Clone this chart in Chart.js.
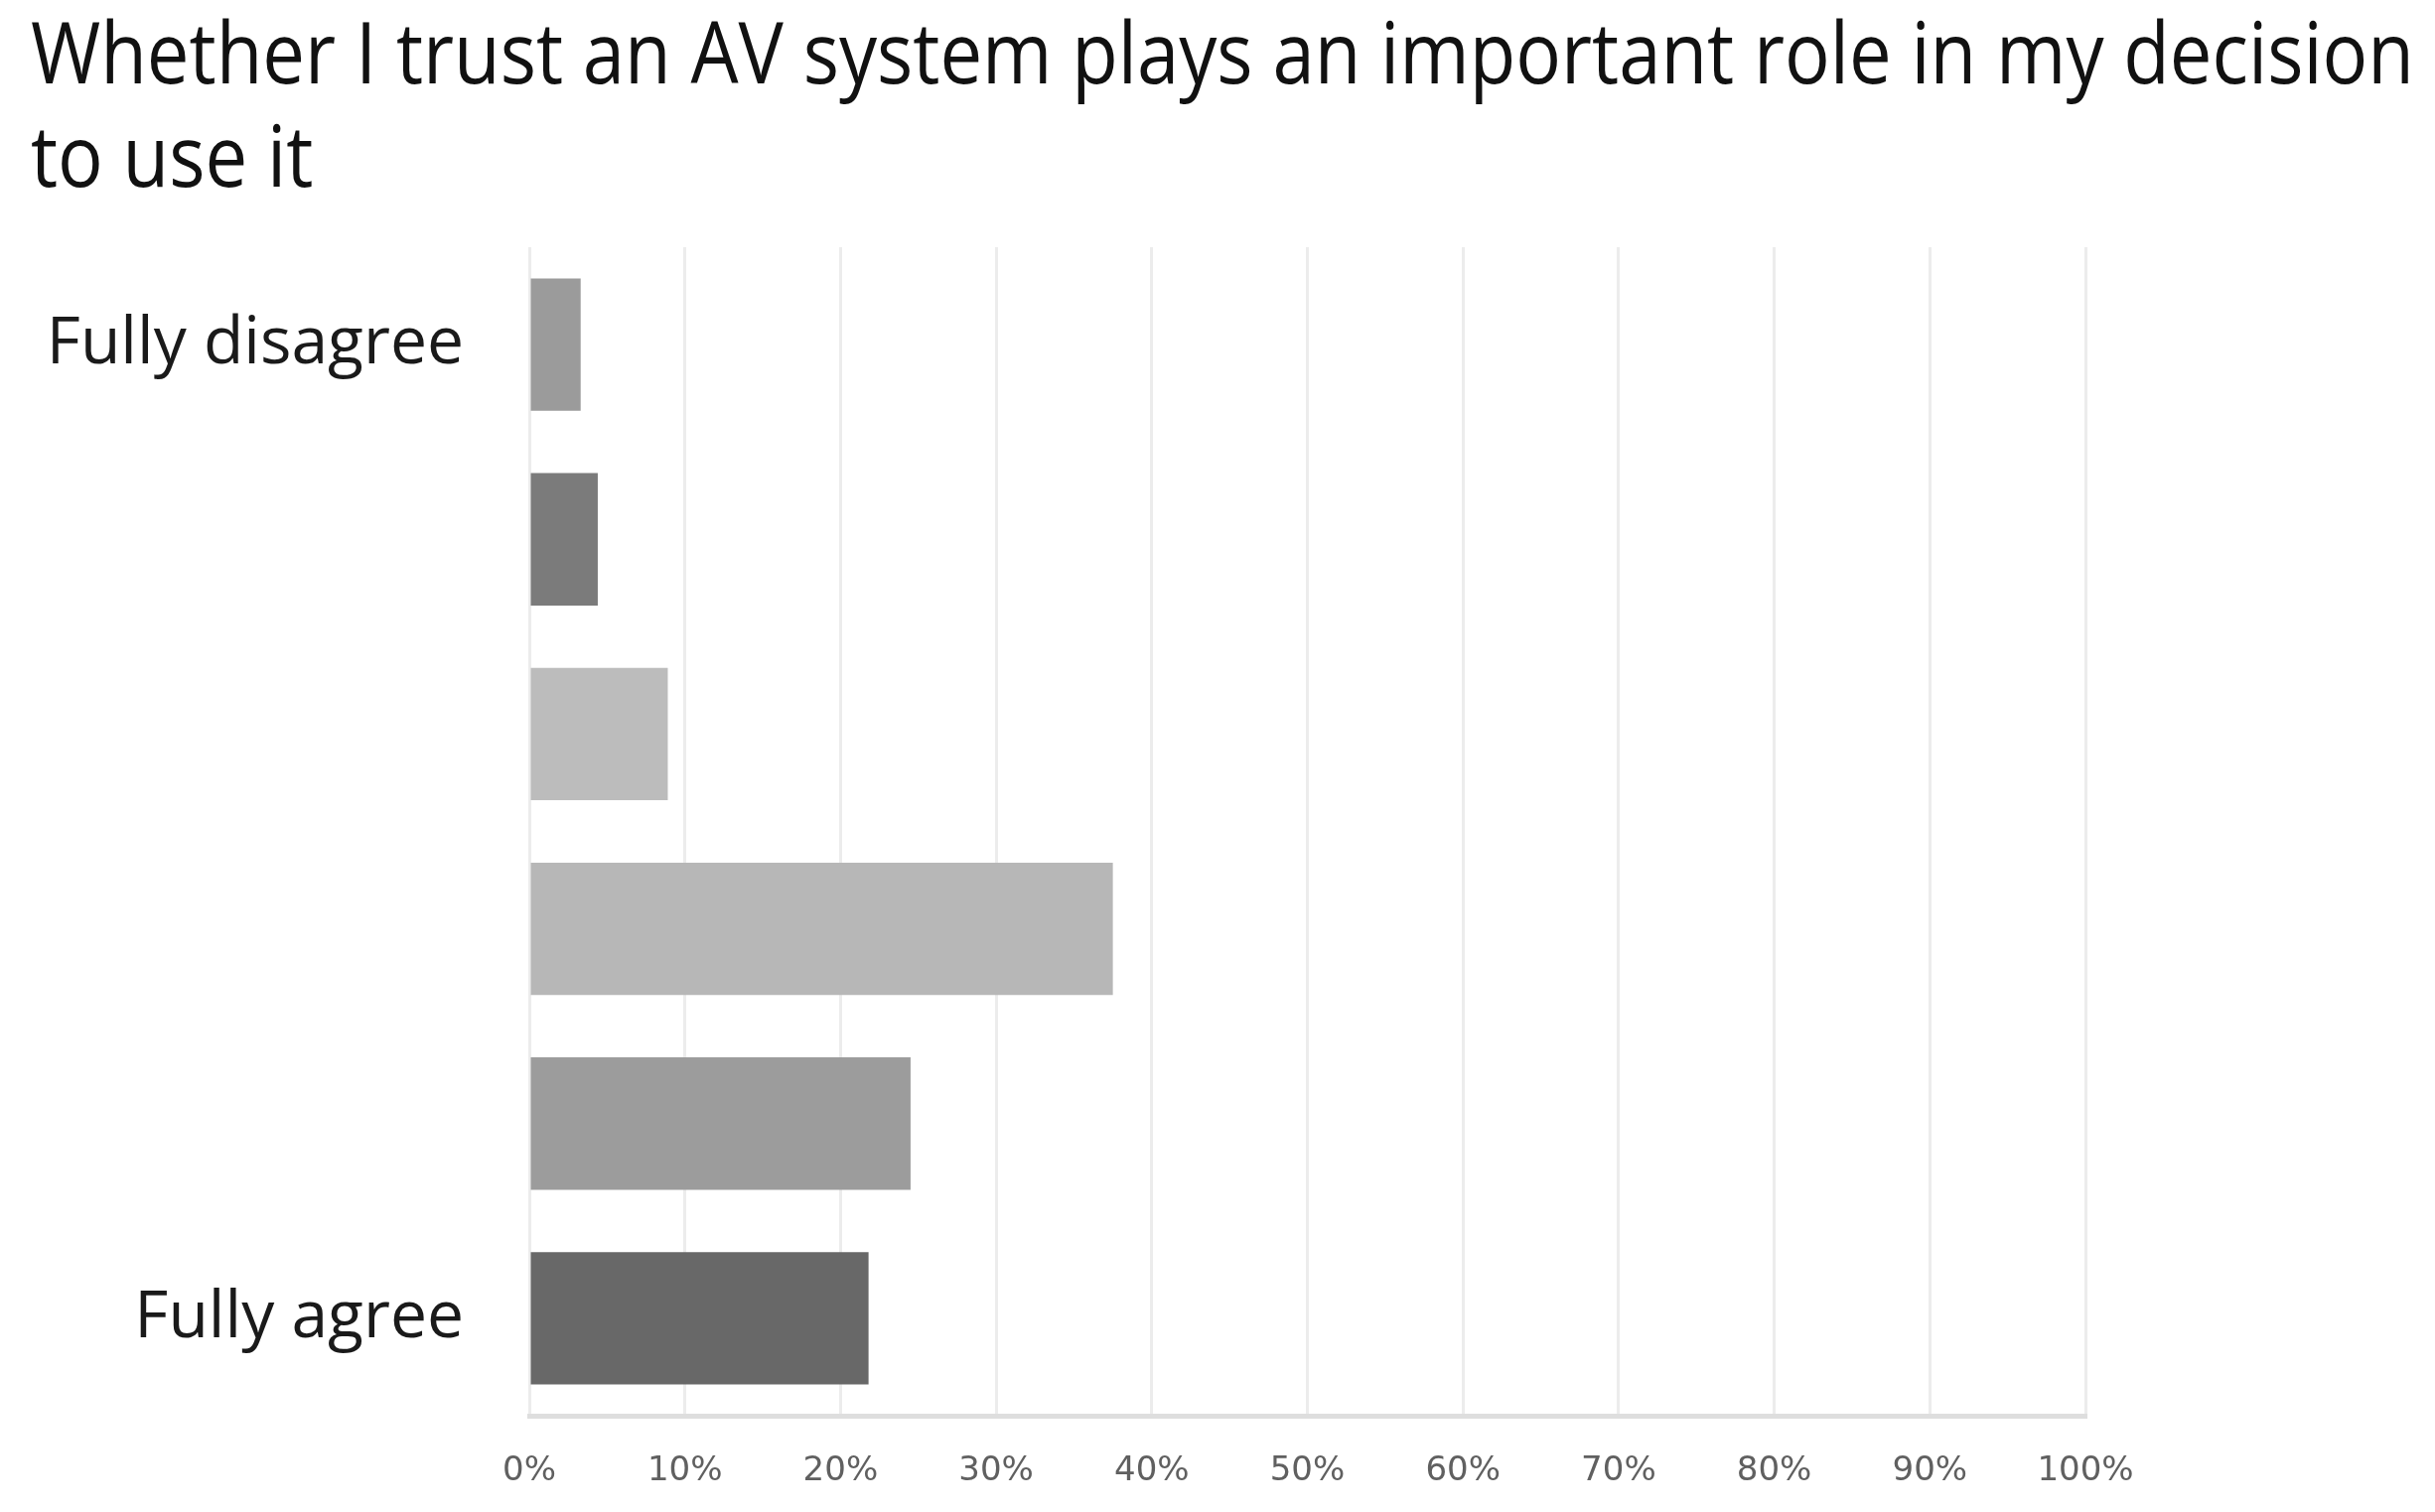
<!DOCTYPE html>
<html><head><meta charset="utf-8">
<script src="https://cdn.jsdelivr.net/npm/chart.js@4/dist/chart.umd.min.js"></script>
<style>
html,body{margin:0;padding:0;background:#fff;overflow:hidden;width:2452px;height:1523px}
</style></head><body><canvas id="c" width="2452" height="1523"></canvas>
<script>
const titleLines = ['Whether I trust an AV system plays an important role in my decision', 'to use it'];
const categories = ['Fully disagree', '', '', '', '', 'Fully agree'];
const values = [3.3, 4.4, 8.9, 37.5, 24.5, 21.8];
const barColors = ['#9b9b9b', '#7b7b7b', '#bcbcbc', '#b7b7b7', '#9c9c9c', '#686868'];
const xTickLabels = ['0%', '10%', '20%', '30%', '40%', '50%', '60%', '70%', '80%', '90%', '100%'];

// Title drawn in the chart canvas, condensed horizontally to the reference's width
const condensedTitle = {
  id: 'condensedTitle',
  afterDraw(chart) {
    const ctx = chart.ctx;
    ctx.save();
    ctx.font = 'normal 86px "Open Sans"';
    ctx.fillStyle = '#111111';
    ctx.textBaseline = 'alphabetic';
    ctx.textAlign = 'left';
    const k = 2400 / ctx.measureText(titleLines[0]).width;
    const baselines = [84, 188];
    titleLines.forEach((line, i) => {
      ctx.save();
      ctx.translate(31, baselines[i]);
      ctx.scale(k, 1);
      ctx.fillText(line, 0, 0);
      ctx.restore();
    });
    ctx.restore();
  }
};

const padLeft = 31;
new Chart(document.getElementById('c'), {
  type: 'bar',
  data: {
    labels: categories,
    datasets: [{
      data: values,
      backgroundColor: barColors,
      borderWidth: 0,
      barPercentage: 0.68,
      categoryPercentage: 1.0
    }]
  },
  plugins: [condensedTitle],
  options: {
    responsive: false,
    devicePixelRatio: 1,
    animation: false,
    indexAxis: 'y',
    layout: { padding: { left: padLeft, right: 2452 - 2100, top: 249, bottom: 0 } },
    plugins: {
      legend: { display: false },
      tooltip: { enabled: false },
      title: { display: false }
    },
    scales: {
      x: {
        type: 'linear',
        min: 0, max: 100,
        position: 'bottom',
        ticks: {
          stepSize: 10,
          autoSkip: false,
          maxRotation: 0,
          padding: 36,
          color: '#606060',
          font: { family: 'DejaVu Sans', size: 34 },
          callback: (v) => xTickLabels[Math.round(v / 10)]
        },
        grid: { color: '#ececec', lineWidth: 3, drawTicks: false },
        border: { display: true, color: '#dedede', width: 5 },
        afterFit: (scale) => { scale.height = 1523 - 1426; }
      },
      y: {
        ticks: {
          autoSkip: false,
          padding: 0,
          color: '#1a1a1a',
          font: { family: 'Open Sans', size: 66 }
        },
        grid: { display: false, drawTicks: true, tickLength: 66 },
        border: { display: false },
        afterFit: (scale) => { scale.width = 533 - padLeft; }
      }
    }
  }
});
</script></body></html>
